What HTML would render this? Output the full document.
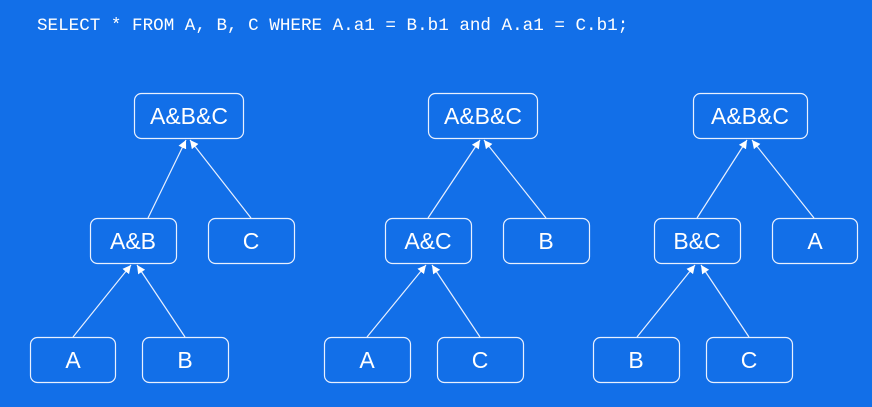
<!DOCTYPE html>
<html><head><meta charset="utf-8"><style>
html,body{margin:0;padding:0;background:#126fe8;}
svg{display:block;}
</style></head><body>
<svg width="872" height="407" viewBox="0 0 872 407" xmlns="http://www.w3.org/2000/svg">
<defs>
<marker id="ah" viewBox="0 0 10 10" refX="10" refY="5" markerWidth="7" markerHeight="7" orient="auto-start-reverse">
<path d="M0,0 L10,5 L0,10 z" fill="#fff"/>
</marker>
</defs>
<rect width="872" height="407" fill="#126fe8"/>
<text x="37" y="30" font-family="Liberation Mono, monospace" font-size="17.6" fill="#fff">SELECT * FROM A, B, C WHERE A.a1 = B.b1 and A.a1 = C.b1;</text>
<g fill="none" stroke="#e8f0ff" stroke-width="1.2" font-family="Liberation Sans, sans-serif">
<g>
<rect x="134.5" y="93.5" width="109" height="45" rx="7"/>
<rect x="90.5" y="218.5" width="86" height="45" rx="7"/>
<rect x="208.5" y="218.5" width="86" height="45" rx="7"/>
<rect x="30.5" y="337.5" width="85" height="45" rx="7"/>
<rect x="142.5" y="337.5" width="86" height="45" rx="7"/>
<line x1="148" y1="218" x2="186" y2="140" marker-end="url(#ah)"/>
<line x1="251" y1="218" x2="190" y2="140" marker-end="url(#ah)"/>
<line x1="73" y1="337" x2="131" y2="265" marker-end="url(#ah)"/>
<line x1="185" y1="337" x2="137" y2="265" marker-end="url(#ah)"/>
</g>
<g>
<rect x="428.5" y="93.5" width="109" height="45" rx="7"/>
<rect x="385.5" y="218.5" width="86" height="45" rx="7"/>
<rect x="503.5" y="218.5" width="86" height="45" rx="7"/>
<rect x="324.5" y="337.5" width="86" height="45" rx="7"/>
<rect x="437.5" y="337.5" width="86" height="45" rx="7"/>
<line x1="428" y1="218" x2="480" y2="140" marker-end="url(#ah)"/>
<line x1="546" y1="218" x2="484" y2="140" marker-end="url(#ah)"/>
<line x1="367" y1="337" x2="426" y2="265" marker-end="url(#ah)"/>
<line x1="480" y1="337" x2="432" y2="265" marker-end="url(#ah)"/>
</g>
<g>
<rect x="693.5" y="93.5" width="114" height="45" rx="7"/>
<rect x="654.5" y="218.5" width="86" height="45" rx="7"/>
<rect x="772.5" y="218.5" width="85" height="45" rx="7"/>
<rect x="593.5" y="337.5" width="86" height="45" rx="7"/>
<rect x="706.5" y="337.5" width="86" height="45" rx="7"/>
<line x1="697" y1="218" x2="747" y2="140" marker-end="url(#ah)"/>
<line x1="814" y1="218" x2="752" y2="140" marker-end="url(#ah)"/>
<line x1="637" y1="337" x2="695" y2="265" marker-end="url(#ah)"/>
<line x1="749" y1="337" x2="701" y2="265" marker-end="url(#ah)"/>
</g>
</g>
<g fill="#fff" font-family="Liberation Sans, sans-serif" font-size="23" text-anchor="middle">
<text x="189" y="124">A&amp;B&amp;C</text>
<text x="133" y="249">A&amp;B</text>
<text x="251" y="249">C</text>
<text x="73" y="368">A</text>
<text x="185" y="368">B</text>
<text x="483" y="124">A&amp;B&amp;C</text>
<text x="428" y="249">A&amp;C</text>
<text x="546" y="249">B</text>
<text x="367" y="368">A</text>
<text x="480" y="368">C</text>
<text x="750" y="124">A&amp;B&amp;C</text>
<text x="697" y="249">B&amp;C</text>
<text x="815" y="249">A</text>
<text x="636" y="368">B</text>
<text x="749" y="368">C</text>
</g>
</svg>
</body></html>
